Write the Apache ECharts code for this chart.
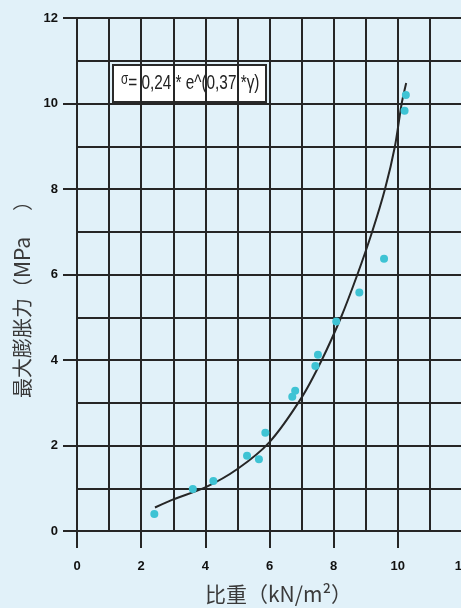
<!DOCTYPE html>
<html>
<head>
<meta charset="utf-8">
<script src="https://cdn.jsdelivr.net/npm/echarts@6/dist/echarts.min.js"></script>
<style>
html,body{margin:0;padding:0;background:#e1f1f9;}
#c{width:461px;height:608px;}
</style>
</head>
<body>
<div id="c"></div>
<script>
// Measured points: 比重 (kN/m²) vs 最大膨胀力 (MPa)
const pointsX = [2.41, 3.61, 4.25, 5.30, 5.67, 5.87, 6.71, 6.80, 7.43, 7.51, 8.08, 8.80, 9.57, 10.21, 10.25];
const pointsY = [0.40, 0.98, 1.17, 1.76, 1.68, 2.30, 3.14, 3.28, 3.86, 4.12, 4.90, 5.58, 6.37, 9.83, 10.20];
// Fitted curve
const curveX = [2.43, 3.0, 4.0, 5.0, 6.0, 7.0, 7.63, 8.23, 8.74, 9.2, 9.6, 9.91, 10.12, 10.26];
const curveY = [0.55, 0.74, 1.02, 1.45, 2.08, 3.12, 4.0, 5.0, 6.0, 7.0, 8.0, 9.0, 10.0, 10.48];
// Axis ranges / ticks
const xRange = [0, 12];
const yRange = [0, 12];
const tickStep = 2;
const xName = '比重（kN/m²）';
const yNameMain = '最大膨胀力';
const yNameUnit = 'MPa';
const formulaParts = ['σ', '= 0,24 * e^(0,37 *γ)'];

const lineCol = '#262626';
const lblFont = "'Liberation Sans',Arial,sans-serif";
const cjkFont = "'Noto Sans CJK SC','Noto Sans',sans-serif";

const chart = echarts.init(document.getElementById('c'), null, {renderer: 'canvas'});

const axisCommon = {
  type: 'value',
  interval: tickStep,
  axisLine: {show: true, lineStyle: {color: lineCol, width: 2}},
  splitLine: {show: true, lineStyle: {color: lineCol, width: 2}},
  minorTick: {show: false, splitNumber: 2},
  minorSplitLine: {show: true, lineStyle: {color: lineCol, width: 2}},
  axisLabel: {color: '#111', fontFamily: lblFont, fontWeight: 'bold', fontSize: 13}
};

chart.setOption({
  backgroundColor: '#e1f1f9',
  animation: false,
  grid: {left: 77, top: 18, width: 385, height: 513, containLabel: false, outerBoundsMode: 'none'},
  xAxis: Object.assign({}, axisCommon, {
    min: xRange[0], max: xRange[1],
    axisTick: {show: true, length: 17, lineStyle: {color: lineCol, width: 2}},
    axisLabel: Object.assign({}, axisCommon.axisLabel, {margin: 29}),
    name: xName, nameLocation: 'middle', nameGap: 53,
    nameTextStyle: {fontFamily: cjkFont, fontSize: 21, color: '#3a3a3a', padding: [0, 0, 0, 18]}
  }),
  yAxis: Object.assign({}, axisCommon, {
    min: yRange[0], max: yRange[1],
    axisTick: {show: true, length: 14, lineStyle: {color: lineCol, width: 2}},
    axisLabel: Object.assign({}, axisCommon.axisLabel, {margin: 19}),
    name: yNameMain + '{p|（}{m|' + yNameUnit + '}{q|）}',
    nameLocation: 'middle', nameGap: 40, nameRotate: 90,
    nameTextStyle: {
      fontFamily: cjkFont, fontSize: 20, color: '#3a3a3a', padding: [0, 40, 0, 0],
      rich: {
        p: {fontFamily: cjkFont, fontSize: 20, color: '#3a3a3a'},
        m: {fontFamily: cjkFont, fontSize: 21, color: '#3a3a3a'},
        q: {fontFamily: cjkFont, fontSize: 20, color: '#3a3a3a', padding: [0, 0, 0, 26]}
      }
    }
  }),
  graphic: [{
    type: 'group', left: 112, top: 64, z: 100,
    children: [
      {type: 'rect', shape: {x: 0, y: 0, width: 153, height: 37},
       style: {fill: '#ffffff', stroke: '#2a2a2a', lineWidth: 2}},
      {type: 'text', x: 8, y: 18, scaleX: 0.73,
       style: {
         text: '{s|' + formulaParts[0] + '}{t|' + formulaParts[1] + '}',
         verticalAlign: 'middle',
         rich: {
           s: {fontFamily: lblFont, fontSize: 16, fill: '#222', verticalAlign: 'top', padding: [0, 0, 7, 0]},
           t: {fontFamily: lblFont, fontSize: 21, fill: '#222'}
         }
       }}
    ]
  }],
  series: [
    {
      type: 'line', z: 3,
      data: curveX.map((x, i) => [x, curveY[i]]),
      smooth: 0.25, showSymbol: false, symbol: 'none',
      lineStyle: {color: '#262626', width: 2}
    },
    {
      type: 'scatter', z: 4,
      data: pointsX.map((x, i) => [x, pointsY[i]]),
      symbolSize: 8,
      itemStyle: {color: '#3ec3d4', opacity: 1}
    }
  ]
});
</script>
</body>
</html>
